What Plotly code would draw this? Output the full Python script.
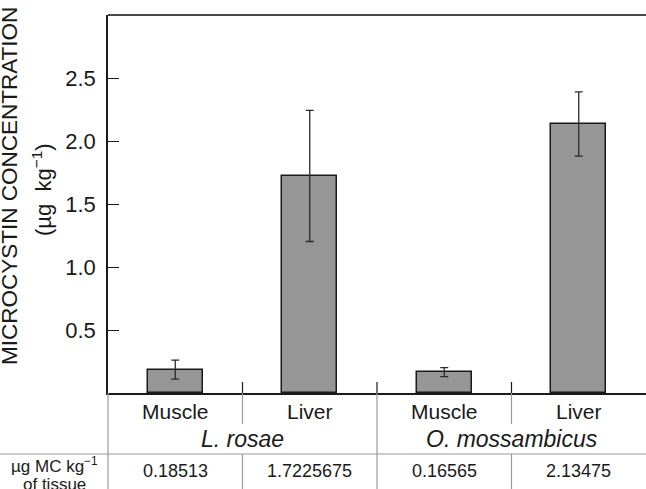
import plotly.graph_objects as go

# ---- data ----
tissues = ["Muscle", "Liver", "Muscle", "Liver"]
species = ["L. rosae", "O. mossambicus"]
means = [0.18513, 1.7225675, 0.16565, 2.13475]
errors = [0.075, 0.52, 0.035, 0.255]
table_values = ["0.18513", "1.7225675", "0.16565", "2.13475"]
y_ticks = [0.5, 1.0, 1.5, 2.0, 2.5]
y_ticklabels = ["0.5", "1.0", "1.5", "2.0", "2.5"]

W, H = 646, 489
ML, MR, MT, MB = 108, 0, 15, 96
PW = W - ML - MR
PH = H - MT - MB

FONT = "Liberation Sans, Arial, sans-serif"
TXT = "#1a1a1a"
GRID = "#9a9a9a"

xs = list(range(len(means)))

fig = go.Figure()
fig.add_trace(go.Bar(
    x=xs, y=means, width=0.41,
    marker=dict(color="#969696", line=dict(color="#1a1a1a", width=1.5)),
    error_y=dict(type="data", array=errors, visible=True,
                 color="#2a2a2a", thickness=1.3, width=4),
    showlegend=False,
))


def py(px):
    return px / PH


shapes = []
shapes.append(dict(type="line", xref="paper", yref="paper", x0=0, x1=1, y0=1, y1=1,
                   line=dict(color="#4a4a4a", width=2)))
for sep in [0.5, 1.5, 2.5]:
    shapes.append(dict(type="line", xref="x", yref="paper", x0=sep, x1=sep,
                       y0=0, y1=py(11), line=dict(color="#1a1a1a", width=1.2)))
    if sep == 1.5:
        shapes.append(dict(type="line", xref="x", yref="paper", x0=sep, x1=sep,
                           y0=0, y1=-py(96), line=dict(color=GRID, width=1.2)))
    else:
        shapes.append(dict(type="line", xref="x", yref="paper", x0=sep, x1=sep,
                           y0=0, y1=-py(31), line=dict(color=GRID, width=1.2)))
        shapes.append(dict(type="line", xref="x", yref="paper", x0=sep, x1=sep,
                           y0=-py(61), y1=-py(96), line=dict(color=GRID, width=1.2)))
shapes.append(dict(type="line", xref="paper", yref="paper", x0=0, x1=0,
                   y0=0, y1=-py(96), line=dict(color=GRID, width=1.2)))
shapes.append(dict(type="line", xref="paper", yref="paper", x0=-ML / PW, x1=1,
                   y0=-py(61), y1=-py(61), line=dict(color=GRID, width=1.2)))

annotations = []
for i, t in enumerate(tissues):
    annotations.append(dict(x=i, y=0, xref="x", yref="paper", yanchor="middle",
                            yshift=-18, text=t, showarrow=False,
                            font=dict(family=FONT, size=21, color=TXT)))
for j, s in enumerate(species):
    annotations.append(dict(x=2 * j + 0.5, y=0, xref="x", yref="paper", yanchor="middle",
                            yshift=-46, text="<i>" + s + "</i>", showarrow=False,
                            font=dict(family=FONT, size=23, color=TXT)))
for i, v in enumerate(table_values):
    annotations.append(dict(x=i, y=0, xref="x", yref="paper", yanchor="middle",
                            yshift=-78, text=v, showarrow=False,
                            font=dict(family=FONT, size=18, color=TXT)))
annotations.append(dict(x=-54 / PW, y=0, xref="paper", yref="paper", yanchor="middle",
                        xanchor="center", yshift=-72,
                        text="µg MC kg<sup>−1</sup>", showarrow=False,
                        font=dict(family=FONT, size=17, color=TXT)))
annotations.append(dict(x=-54 / PW, y=0, xref="paper", yref="paper", yanchor="middle",
                        xanchor="center", yshift=-91,
                        text="of tissue", showarrow=False,
                        font=dict(family=FONT, size=17, color=TXT)))
annotations.append(dict(x=-98 / PW, y=(393 - 186) / PH, xref="paper", yref="paper",
                        xanchor="center", yanchor="middle", textangle=-90,
                        text="MICROCYSTIN CONCENTRATION",
                        showarrow=False,
                        font=dict(family=FONT, size=22.5, color=TXT)))
annotations.append(dict(x=-66 / PW, y=(393 - 190) / PH, xref="paper", yref="paper",
                        xanchor="center", yanchor="middle", textangle=-90,
                        text="(µg  kg<sup>−1</sup>)",
                        showarrow=False,
                        font=dict(family=FONT, size=22, color=TXT)))

fig.update_layout(
    width=W, height=H,
    margin=dict(l=ML, r=MR, t=MT, b=MB),
    paper_bgcolor="white", plot_bgcolor="white",
    shapes=shapes, annotations=annotations,
    xaxis=dict(range=[-0.5, 3.5], showticklabels=False, ticks="", showgrid=False,
               zeroline=False, showline=True, linecolor="#1a1a1a", linewidth=1.5),
    yaxis=dict(range=[0, 3], tickvals=y_ticks, ticktext=y_ticklabels,
               ticks="inside", ticklen=11, tickcolor="#1a1a1a", tickwidth=1.2,
               showgrid=False, zeroline=False, showline=True,
               linecolor="#1a1a1a", linewidth=1.5, ticklabelstandoff=6,
               tickfont=dict(family=FONT, size=22, color=TXT)),
    bargap=0,
)

fig.write_html("out.html", config={"displayModeBar": False},
               post_script="document.body.style.margin='0';document.body.style.overflow='hidden';")
